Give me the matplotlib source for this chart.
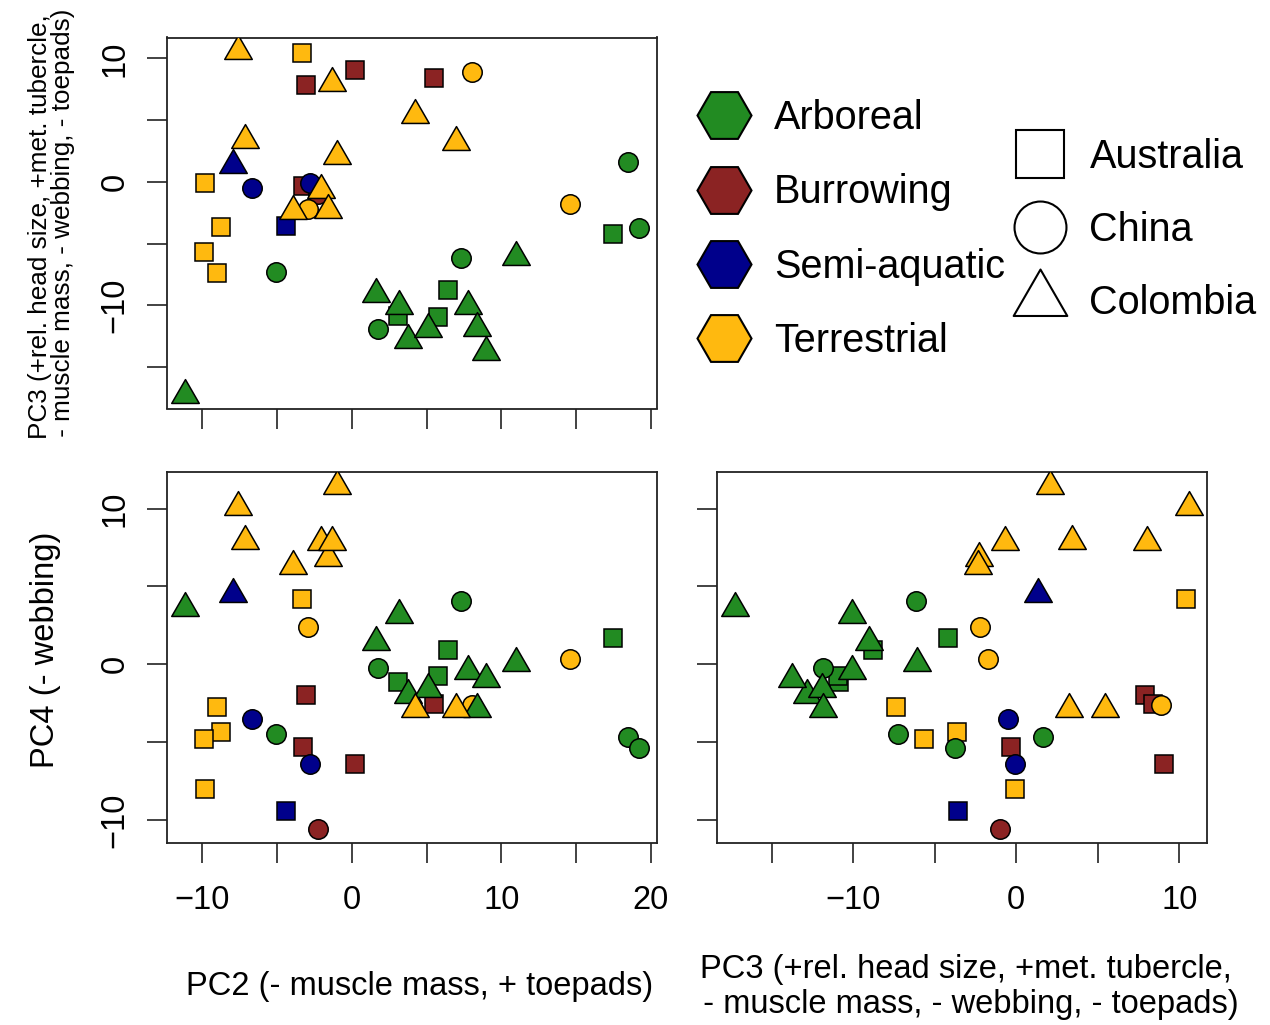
import matplotlib
matplotlib.use('Agg')
import matplotlib.pyplot as plt
from matplotlib.path import Path
from matplotlib.lines import Line2D
from matplotlib.ticker import MultipleLocator

plt.rcParams['font.family'] = ['Liberation Sans', 'DejaVu Sans']

# ---------------- data ----------------
habitat = (['Arboreal'] * 4 + ['Burrowing'] * 4 + ['Semi-aquatic'] + ['Terrestrial'] * 5
           + ['Arboreal'] * 5 + ['Burrowing'] + ['Semi-aquatic'] * 2 + ['Terrestrial'] * 3
           + ['Arboreal'] * 9 + ['Semi-aquatic'] + ['Terrestrial'] * 9)
country = ['Australia'] * 14 + ['China'] * 11 + ['Colombia'] * 19

pc2 = [3.11, 5.79, 6.46, 17.49, -3.08, 0.21, 5.52, -3.30, -4.42, -3.35, -9.82, -8.75, -9.91, -9.04,
       -5.07, 1.77, 7.30, 18.50, 19.21, -2.24, -6.70, -2.83, 8.06, -2.91, 14.60,
       -11.16, 1.62, 3.16, 3.78, 5.12, 7.79, 8.35, 8.96, 10.96, -7.97,
       -7.59, 4.23, 6.97, -7.14, -0.97, -2.08, -1.61, -3.95, -1.35]
pc3 = [-10.87, -10.92, -8.78, -4.19, 7.87, 9.06, 8.39, -0.35, -3.57, 10.41, -0.10, -3.65, -5.68, -7.35,
       -7.27, -11.87, -6.13, 1.62, -3.75, -0.98, -0.48, -0.05, 8.90, -2.20, -1.75,
       -17.23, -9.05, -10.05, -12.82, -11.93, -10.05, -11.85, -13.75, -6.10, 1.35,
       10.58, 5.42, 3.22, 3.41, 2.09, -0.67, -2.27, -2.37, 8.00]
pc4 = [-1.14, -0.75, 0.90, 1.67, -2.00, -6.40, -2.58, -5.32, -9.45, 4.19, -8.00, -4.34, -4.77, -2.72,
       -4.46, -0.21, 4.08, -4.68, -5.41, -10.60, -3.54, -6.40, -2.60, 2.40, 0.32,
       3.60, 1.46, 3.16, -2.00, -1.61, -0.43, -2.88, -0.97, 0.06, 4.50,
       10.10, -2.90, -2.90, 7.94, 11.47, 7.83, 6.80, 6.33, 7.83]

habitat_names = ['Arboreal', 'Burrowing', 'Semi-aquatic', 'Terrestrial']
country_names = ['Australia', 'China', 'Colombia']

colors = {'Arboreal': '#228B22', 'Burrowing': '#8B2323',
          'Semi-aquatic': '#00008B', 'Terrestrial': '#FFB90F'}
tri = Path([(0, 1), (-0.8660254, -0.5), (0.8660254, -0.5), (0, 1)],
           [Path.MOVETO, Path.LINETO, Path.LINETO, Path.CLOSEPOLY])
markers = {'Australia': 's', 'China': 'o', 'Colombia': tri}
msizes = {'Australia': 12.8, 'China': 14.0, 'Colombia': 22.9}

# ---------------- figure ----------------
W, H = 1270, 1025
fig = plt.figure(figsize=(W / 100, H / 100), dpi=100)


def px_axes(l, t, r, b):
    return fig.add_axes([l / W, 1 - b / H, (r - l) / W, (b - t) / H])


ax_tl = px_axes(167, 37.5, 657, 408.5)
ax_bl = px_axes(167, 472, 657, 843)
ax_br = px_axes(717, 472, 1207, 843)

FS = 23.5


def fmt(v):
    return str(int(round(v))).replace('-', '\u2212')


def style(ax, xlabels, ylabels):
    for s in ax.spines.values():
        s.set_linewidth(1.3)
        s.set_color('#222222')
    ax.margins(x=0.04, y=0.04)
    ax.xaxis.set_major_locator(MultipleLocator(5))
    ax.yaxis.set_major_locator(MultipleLocator(5))
    ax.tick_params(direction='out', length=14.4, width=1.2, color='#222222',
                   labelsize=FS)
    ax.tick_params(axis='x', pad=15.6)
    ax.tick_params(axis='y', pad=12)
    ax.figure.canvas.draw()
    xl, yl = ax.get_xlim(), ax.get_ylim()
    xt = [t for t in ax.get_xticks() if xl[0] <= t <= xl[1]]
    yt = [t for t in ax.get_yticks() if yl[0] <= t <= yl[1]]
    ax.set_xticks(xt, labels=[fmt(t) if (xlabels and t % 10 == 0) else '' for t in xt])
    ax.set_yticks(yt, labels=[fmt(t) if (ylabels and t % 10 == 0) else '' for t in yt],
                  rotation=90, va='center')
    ax.set_xlim(xl)
    ax.set_ylim(yl)


def draw(ax, xs, ys):
    for i, (x, y, h, c) in enumerate(zip(xs, ys, habitat, country)):
        ax.plot([x], [y], ls='none', marker=markers[c], ms=msizes[c],
                mfc=colors[h], mec='black', mew=1.1, zorder=3 + i * 0.01)


draw(ax_tl, pc2, pc3)
draw(ax_bl, pc2, pc4)
draw(ax_br, pc3, pc4)

style(ax_tl, False, True)
style(ax_bl, True, True)
style(ax_br, True, False)

# axis labels
ax_tl.set_ylabel('PC3 (+rel. head size, +met. tubercle,\n - muscle mass, - webbing, - toepads)',
                 fontsize=18.8, linespacing=0.98, va='center', ha='center')
ax_tl.yaxis.set_label_coords(-0.236, 0.49)
ax_bl.set_ylabel('PC4 (- webbing)', fontsize=FS, va='center', ha='center')
ax_bl.yaxis.set_label_coords(-0.247, 0.52)
ax_bl.set_xlabel('PC2 (- muscle mass, + toepads)', fontsize=FS, va='center', ha='center')
ax_bl.xaxis.set_label_coords(0.516, -0.388)
ax_br.set_xlabel('PC3 (+rel. head size, +met. tubercle,\n - muscle mass, - webbing, - toepads)',
                 fontsize=FS, linespacing=1.19, va='center', ha='center')
ax_br.xaxis.set_label_coords(0.508, -0.388)

# legends
LFS = 28.5
h1 = [Line2D([], [], ls='none', marker='H', ms=38.9, mfc=colors[n], mec='black', mew=1.5)
      for n in habitat_names]
leg1 = fig.legend(h1, habitat_names, loc='upper left', bbox_to_anchor=(685 / W, 1 - 99 / H),
                  bbox_transform=fig.transFigure, frameon=False, fontsize=LFS,
                  handlelength=1.965, handletextpad=0.28, labelspacing=0.92,
                  borderpad=0, borderaxespad=0)
h2 = [Line2D([], [], ls='none', marker=markers[n],
             ms={'Australia': 34.6, 'China': 37.4, 'Colombia': 44.6}[n],
             mfc='none', mec='black', mew=1.5) for n in country_names]
leg2 = fig.legend(h2, country_names, loc='upper left', bbox_to_anchor=(1001 / W, 1 - 138 / H),
                  bbox_transform=fig.transFigure, frameon=False, fontsize=LFS,
                  handlelength=1.965, handletextpad=0.27, labelspacing=0.88,
                  borderpad=0, borderaxespad=0)

fig.savefig('out.png', dpi=100)
